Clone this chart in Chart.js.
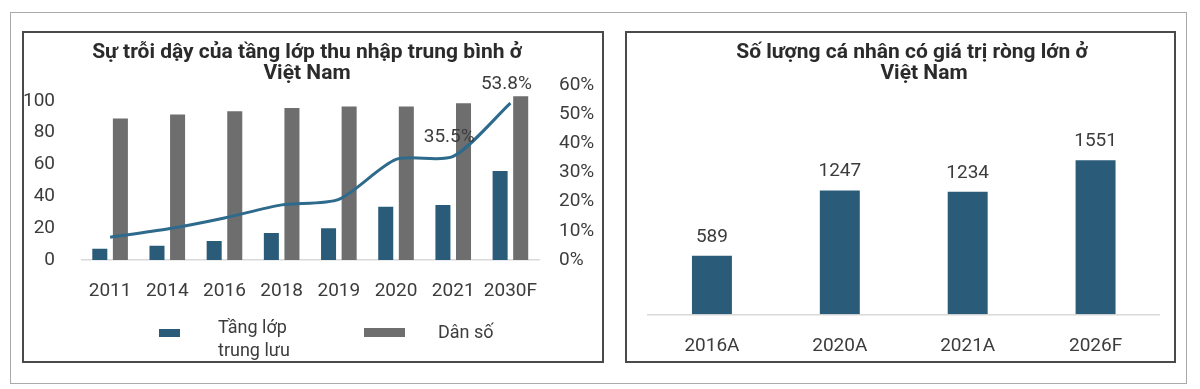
<!DOCTYPE html>
<html lang="vi">
<head>
<meta charset="UTF-8" />
<title>Tầng lớp trung lưu và cá nhân có giá trị ròng lớn ở Việt Nam</title>
<script src="https://cdn.jsdelivr.net/npm/chart.js"></script>
<style>
  body { margin: 0; background: #fff; font-family: Roboto, "Noto Sans", sans-serif; color: #3c3c3c; }
  #page { position: relative; width: 1200px; height: 389px; overflow: hidden; }
  .outer { position: absolute; left: 10px; top: 12px; width: 1175px; height: 370px; border: 1px solid #a9a9a9; }
  .box { position: absolute; top: 31px; height: 328px; border: 2px solid #4a4a4a; }
  .box canvas { position: absolute; left: 0; top: 0; }
  .title { position: absolute; width: 600px; text-align: center; font-weight: bold; font-size: 21px; line-height: 21px; color: #2b2b2b; }
  .title span { display: block; }
  .swatch { position: absolute; }
  .legtext { position: absolute; font-size: 18px; line-height: 23px; color: #3c3c3c; }
</style>
</head>
<body>
<div id="page">
  <div class="outer"></div>

  <div class="box" style="left:22px;width:578px;">
    <canvas id="middleChart" width="578" height="328"></canvas>
  </div>
  <div class="box" style="left:625px;width:547px;">
    <canvas id="hnwiChart" width="547" height="328"></canvas>
  </div>

  <div class="title" style="left:7px;top:41px;">
    <span>Sự trỗi dậy của tầng lớp thu nhập trung bình ở</span>
    <span>Việt Nam</span>
  </div>
  <div class="title" style="left:612px;top:41px;">
    <span>Số lượng cá nhân có giá trị ròng lớn ở</span>
    <span style="position:relative;left:12px;">Việt Nam</span>
  </div>

  <div class="swatch" style="left:159px;top:329px;width:21px;height:8px;background:#2a5b79;"></div>
  <div class="legtext" style="left:218px;top:315px;">Tầng lớp<br>trung lưu</div>
  <div class="swatch" style="left:364px;top:328px;width:41px;height:9px;background:#6e6e6e;"></div>
  <div class="legtext" style="left:438px;top:320px;">Dân số</div>
</div>

<script>
// chart 1: middle class rise
const years = ['2011', '2014', '2016', '2018', '2019', '2020', '2021', '2030F'];
const middleClass = [7, 9, 12, 17, 20, 33.5, 34.5, 56];
const population = [89, 91.5, 93.5, 95.5, 96.5, 96.5, 98.5, 103];
const middleShare = [7.8, 10.6, 14.4, 18.9, 20.8, 34.5, 35.5, 53.8];
const shareLabels = ['', '', '', '', '', '', '35.5%', '53.8%'];

// chart 2: high net worth individuals
const hnwiYears = ['2016A', '2020A', '2021A', '2026F'];
const hnwiCount = [589, 1247, 1234, 1551];

const BLUE = '#2a5b79';
const GRAY = '#6e6e6e';
const LINE = '#2d6a8c';
const TEXT = '#3c3c3c';

// draws value labels above points / bars
const valueLabels = {
  id: 'valueLabels',
  afterDatasetsDraw(chart, args, opts) {
    const ctx = chart.ctx;
    chart.data.datasets.forEach((ds, i) => {
      if (!ds.valueLabels) return;
      const meta = chart.getDatasetMeta(i);
      ctx.save();
      ctx.font = opts.font;
      ctx.fillStyle = opts.color;
      ctx.textAlign = 'center';
      ctx.textBaseline = 'middle';
      meta.data.forEach((el, j) => {
        const t = ds.valueLabels[j];
        if (t) ctx.fillText(t, el.x + (opts.dx || 0), el.y - opts.offset);
      });
      ctx.restore();
    });
  }
};

const tickFont = { family: 'Roboto', size: 19 };
const flatTicks = { maxRotation: 0, minRotation: 0, autoSkip: false };

new Chart(document.getElementById('middleChart'), {
  type: 'bar',
  data: {
    labels: years,
    datasets: [
      {
        type: 'line',
        label: 'Tỷ lệ',
        data: middleShare,
        valueLabels: shareLabels,
        yAxisID: 'y1',
        borderColor: LINE,
        borderWidth: 3,
        pointRadius: 0,
        tension: 0.25,
        order: 0
      },
      {
        label: 'Tầng lớp trung lưu',
        data: middleClass,
        backgroundColor: BLUE,
        yAxisID: 'y',
        barPercentage: 0.73,
        categoryPercentage: 0.72,
        order: 1
      },
      {
        label: 'Dân số',
        data: population,
        backgroundColor: GRAY,
        yAxisID: 'y',
        barPercentage: 0.73,
        categoryPercentage: 0.72,
        order: 2
      }
    ]
  },
  plugins: [valueLabels],
  options: {
    responsive: false,
    animation: false,
    layout: { padding: { top: 52, left: 0, right: 0, bottom: 0 } },
    plugins: {
      legend: { display: false },
      tooltip: { enabled: false },
      valueLabels: { font: '19px Roboto', color: TEXT, offset: 19, dx: -4 }
    },
    scales: {
      x: {
        grid: { display: false },
        border: { color: '#d9d9d9', width: 1.5 },
        ticks: { ...flatTicks, font: tickFont, color: TEXT, padding: 12 },
        afterFit: (s) => { s.height = 101; s.paddingLeft = 0; s.paddingRight = 0; }
      },
      y: {
        position: 'left',
        min: 0,
        max: 110,
        grid: { display: false },
        border: { display: false },
        ticks: { stepSize: 20, includeBounds: false, font: tickFont, color: TEXT, padding: 18.5 },
        afterFit: (s) => { s.width = 57.5; s.paddingTop = 0; s.paddingBottom = 0; }
      },
      y1: {
        position: 'right',
        min: 0,
        max: 60,
        grid: { display: false },
        border: { display: false },
        ticks: { stepSize: 10, font: tickFont, color: TEXT, padding: 12, callback: (v) => v + '%' },
        afterFit: (s) => { s.width = 63; s.paddingTop = 0; s.paddingBottom = 0; }
      }
    }
  }
});

new Chart(document.getElementById('hnwiChart'), {
  type: 'bar',
  data: {
    labels: hnwiYears,
    datasets: [
      {
        label: 'Số lượng cá nhân có giá trị ròng lớn',
        data: hnwiCount,
        valueLabels: hnwiCount.map(String),
        backgroundColor: BLUE,
        barPercentage: 0.625,
        categoryPercentage: 0.5
      }
    ]
  },
  plugins: [valueLabels],
  options: {
    responsive: false,
    animation: false,
    layout: { padding: { top: 82.7, left: 21, right: 14.5, bottom: 0 } },
    plugins: {
      legend: { display: false },
      tooltip: { enabled: false },
      valueLabels: { font: '19px Roboto', color: TEXT, offset: 19 }
    },
    scales: {
      x: {
        grid: { display: false },
        border: { color: '#d9d9d9', width: 1.5 },
        ticks: { ...flatTicks, font: tickFont, color: TEXT, padding: 13 },
        afterFit: (s) => { s.height = 46.7; s.paddingLeft = 0; s.paddingRight = 0; }
      },
      y: { display: false, min: 0, max: 2000 }
    }
  }
});
</script>
</body>
</html>
